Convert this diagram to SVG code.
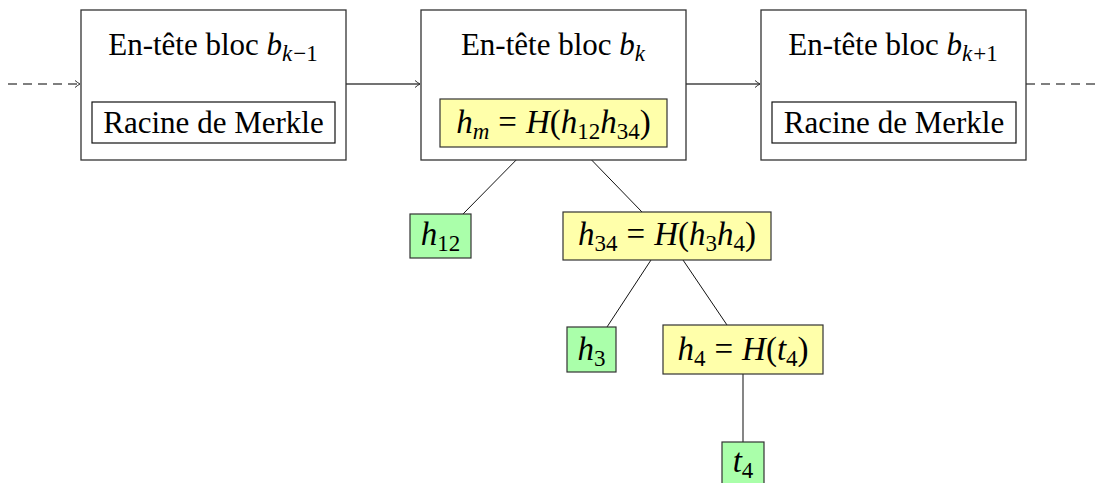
<svg xmlns="http://www.w3.org/2000/svg" width="1096" height="483" viewBox="0 0 1096 483">
<style>
text{font-family:"Liberation Serif","DejaVu Serif",serif;font-size:31px;fill:#000;text-anchor:middle}
.m{font-size:33px}
.i{font-style:italic}
.s{font-size:23px}
.blk{fill:#fff;stroke:#333;stroke-width:1.3}
.in{fill:#fff;stroke:#111;stroke-width:1.2}
.y{fill:#ffffaa;stroke:#333;stroke-width:1.2}
.g{fill:#aaffaa;stroke:#333;stroke-width:1.2}
.c{stroke:#444;stroke-width:1.3;fill:none}
.d{stroke:#555;stroke-width:1.3;fill:none;stroke-dasharray:9 6}
.t{stroke:#111;stroke-width:1;fill:none}
</style>
<defs>
<marker id="ar" markerWidth="10" markerHeight="10" refX="7" refY="5" orient="auto" markerUnits="userSpaceOnUse">
<path d="M2,1.5 Q5,4 7,5 Q5,6 2,8.5" fill="none" stroke="#333" stroke-width="1"/>
</marker>
</defs>
<g id="connectors">
<line class="d" x1="8" y1="84" x2="80" y2="84" marker-end="url(#ar)"/>
<line class="c" x1="346" y1="84" x2="420" y2="84" marker-end="url(#ar)"/>
<line class="c" x1="686" y1="84" x2="760" y2="84" marker-end="url(#ar)"/>
<line class="d" x1="1026" y1="84" x2="1096" y2="84"/>
<line class="t" x1="529" y1="147" x2="463" y2="214"/>
<line class="t" x1="579" y1="147" x2="642" y2="212"/>
<line class="t" x1="651" y1="260" x2="607" y2="327"/>
<line class="t" x1="683" y1="260" x2="727" y2="325"/>
<line class="c" x1="743" y1="374" x2="743" y2="442"/>
</g>
<g id="block1">
<rect class="blk" x="81" y="10" width="265" height="150"/>
<text x="213" y="55">En-tête bloc <tspan class="i">b</tspan><tspan class="s i" dy="6">k</tspan><tspan class="s" dx="1">−1</tspan></text>
<rect class="in" x="92" y="102" width="243" height="41"/>
<text x="213.5" y="133">Racine de Merkle</text>
</g>
<g id="block2">
<rect class="blk" x="421" y="10" width="265" height="150"/>
<text x="553" y="55">En-tête bloc <tspan class="i">b</tspan><tspan class="s i" dy="6">k</tspan></text>
</g>
<g id="hm">
<rect class="y" x="440" y="99" width="227" height="48"/>
<text class="m" x="553.5" y="133"><tspan class="i">h</tspan><tspan class="s i" dy="6">m</tspan><tspan dy="-6" dx="9">=</tspan><tspan class="i" dx="9">H</tspan>(<tspan class="i">h</tspan><tspan class="s" dy="6">12</tspan><tspan class="i" dy="-6">h</tspan><tspan class="s" dy="6">34</tspan><tspan dy="-6">)</tspan></text>
</g>
<g id="block3">
<rect class="blk" x="761" y="10" width="265" height="150"/>
<text x="893" y="55">En-tête bloc <tspan class="i">b</tspan><tspan class="s i" dy="6">k</tspan><tspan class="s" dx="1">+1</tspan></text>
<rect class="in" x="772" y="102" width="244" height="41"/>
<text x="894" y="133">Racine de Merkle</text>
</g>
<g id="h12">
<rect class="g" x="410" y="214" width="61" height="44"/>
<text class="m" x="440.5" y="245"><tspan class="i">h</tspan><tspan class="s" dy="6">12</tspan></text>
</g>
<g id="h34">
<rect class="y" x="563" y="212" width="208" height="48"/>
<text class="m" x="667" y="245"><tspan class="i">h</tspan><tspan class="s" dy="6">34</tspan><tspan dy="-6" dx="9">=</tspan><tspan class="i" dx="9">H</tspan>(<tspan class="i">h</tspan><tspan class="s" dy="6">3</tspan><tspan class="i" dy="-6">h</tspan><tspan class="s" dy="6">4</tspan><tspan dy="-6">)</tspan></text>
</g>
<g id="h3">
<rect class="g" x="567" y="327" width="49" height="45"/>
<text class="m" x="591.5" y="360"><tspan class="i">h</tspan><tspan class="s" dy="6">3</tspan></text>
</g>
<g id="h4">
<rect class="y" x="663" y="325" width="160" height="49"/>
<text class="m" x="743" y="360"><tspan class="i">h</tspan><tspan class="s" dy="6">4</tspan><tspan dy="-6" dx="9">=</tspan><tspan class="i" dx="9">H</tspan>(<tspan class="i">t</tspan><tspan class="s" dy="6">4</tspan><tspan dy="-6">)</tspan></text>
</g>
<g id="t4">
<rect class="g" x="722" y="442" width="42" height="46"/>
<text class="m" x="743" y="472"><tspan class="i">t</tspan><tspan class="s" dy="6">4</tspan></text>
</g>
</svg>
